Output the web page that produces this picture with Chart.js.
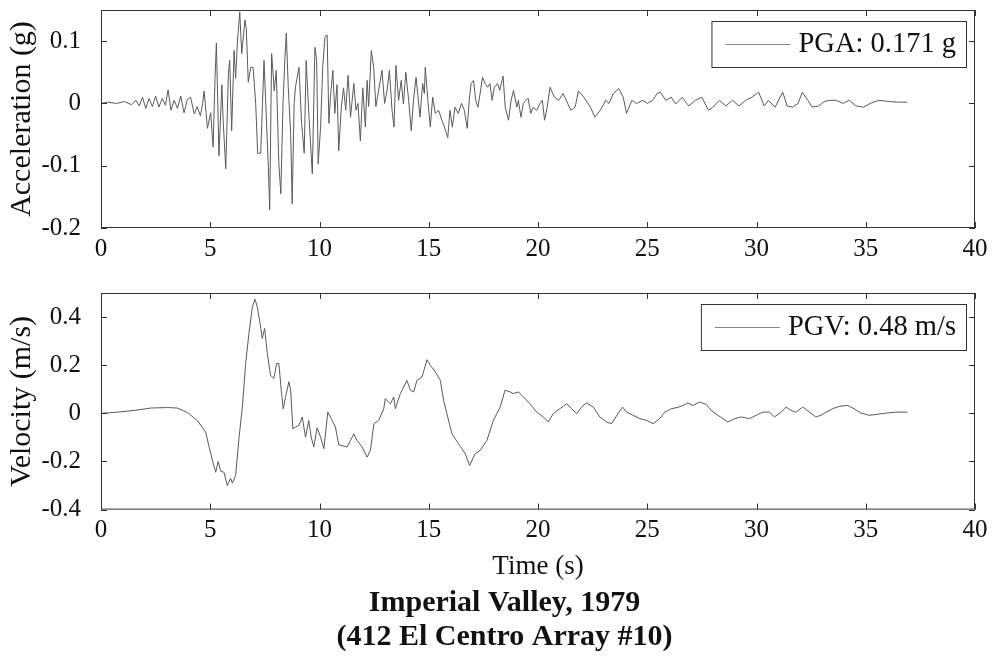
<!DOCTYPE html>
<html><head><meta charset="utf-8">
<script src="https://cdn.jsdelivr.net/npm/chart.js@4"></script>
<style>
html,body{margin:0;padding:0;background:#fff;}
#wrap{position:relative;width:995px;height:656px;overflow:hidden;background:#fff;}
#c1{position:absolute;left:0;top:0;width:995px;height:270px;}
#c2{position:absolute;left:0;top:283px;width:995px;height:373px;}
</style></head><body>
<div id="wrap"><canvas id="c1" width="995" height="270"></canvas><canvas id="c2" width="995" height="373"></canvas></div>
<script>
// ---------- data ----------
const timeTicks = [0, 5, 10, 15, 20, 25, 30, 35, 40];
const accelTicks = [-0.2, -0.1, 0, 0.1];
const velTicks = [-0.4, -0.2, 0, 0.2, 0.4];

const accelTime = [0.0,0.3,0.7,1.07,1.4,1.6,1.75,1.9,2.05,2.2,2.35,2.5,2.65,2.8,2.95,3.07,3.2,3.35,3.5,3.65,3.8,3.95,4.1,4.27,4.4,4.55,4.65,4.72,4.87,5.02,5.13,5.22,5.28,5.40,5.53,5.59,5.71,5.83,5.89,5.98,6.09,6.16,6.24,6.35,6.44,6.59,6.65,6.74,6.85,6.96,7.08,7.17,7.31,7.46,7.53,7.66,7.72,7.81,7.93,8.02,8.14,8.23,8.33,8.42,8.48,8.57,8.68,8.75,8.84,8.90,9.06,9.18,9.30,9.39,9.51,9.67,9.79,9.87,9.94,10.05,10.15,10.25,10.35,10.43,10.5,10.61,10.7,10.8,10.88,11.0,11.1,11.2,11.31,11.42,11.57,11.67,11.76,11.87,11.98,12.1,12.18,12.25,12.37,12.48,12.58,12.7,12.86,12.98,13.09,13.2,13.32,13.41,13.5,13.62,13.74,13.84,13.95,14.08,14.2,14.3,14.42,14.6,14.72,14.8,14.84,14.96,15.07,15.18,15.3,15.45,15.6,15.72,15.87,15.97,16.08,16.2,16.35,16.5,16.63,16.76,16.85,16.94,17.05,17.15,17.25,17.35,17.46,17.58,17.7,17.8,17.9,18.0,18.15,18.25,18.4,18.5,18.65,18.77,18.88,19.03,19.1,19.22,19.33,19.43,19.55,19.67,19.78,19.94,20.1,20.2,20.3,20.42,20.55,20.75,20.95,21.15,21.5,21.7,21.85,22.1,22.4,22.6,22.85,23.1,23.25,23.45,23.7,23.9,24.05,24.3,24.5,24.8,25.0,25.25,25.45,25.6,25.85,26.1,26.3,26.6,26.9,27.2,27.5,27.8,28.0,28.3,28.6,28.9,29.2,29.5,29.8,30.1,30.35,30.55,30.85,31.2,31.4,31.65,31.9,32.1,32.35,32.55,32.85,33.1,33.35,33.65,33.95,34.25,34.55,34.9,35.2,35.6,36.1,36.5,36.9];
const accelValue = [0,0.002,0,0.003,-0.002,0.005,-0.004,0.01,-0.008,0.008,-0.005,0.012,-0.006,0.008,-0.003,0.022,-0.011,0.005,-0.008,0.012,-0.015,0.006,0.01,-0.017,-0.005,-0.02,0.0,0.02,-0.04,-0.015,-0.07,0.042,0.097,-0.084,0.03,-0.027,-0.105,0.048,0.069,-0.044,0.085,0.04,0.097,0.147,0.08,0.134,0.12,0.034,0.058,0.058,0.0,-0.08,-0.08,0.069,0.01,-0.103,-0.171,0.08,0.02,0.053,-0.097,-0.145,0.0,0.074,0.113,0.026,-0.048,-0.161,0.0,0.026,0.058,-0.032,-0.08,0.069,-0.016,-0.113,0.09,0.069,-0.097,-0.038,0.06,0.107,0.11,-0.032,0.01,0.053,-0.016,0.03,-0.076,-0.005,0.025,-0.011,0.045,-0.022,0.032,-0.011,0.0,-0.06,0.025,-0.038,0.037,-0.005,0.085,0.058,-0.005,0.02,0.053,0.0,0.02,0.053,-0.011,-0.038,0.061,0.005,0.037,-0.001,0.05,0.005,-0.044,0.005,0.042,-0.022,0.032,0.016,0.058,0.005,-0.038,0.01,-0.016,-0.011,-0.027,-0.038,-0.055,-0.011,-0.038,-0.006,-0.016,0.0,-0.011,-0.04,0.005,0.032,0.037,0.005,-0.006,0.016,0.042,0.032,0.026,0.032,0.005,0.026,0.032,0.021,0.044,-0.006,-0.027,0.005,0.021,-0.006,0.005,-0.022,0.0,0.005,0.008,-0.016,-0.006,-0.011,0.0,0.005,-0.027,-0.006,0.026,0.01,0.005,0.016,-0.011,-0.006,0.02,0.01,-0.006,-0.022,-0.011,0.005,0.0,0.016,0.024,0.01,-0.016,0.005,0.0,0.005,0.0,0.005,0.016,0.018,0.005,0.01,-0.001,0.01,-0.004,0.005,0.01,-0.011,-0.006,0.005,-0.004,0.005,-0.004,0.005,0.01,0.018,-0.004,0.005,-0.006,0.018,-0.004,-0.006,0.0,0.018,0.005,-0.006,-0.004,0.003,0.005,0.005,0.0,0.005,-0.004,-0.006,0.0,0.005,0.003,0.002,0.002];

const velTime = [0.0,0.76,1.52,2.28,3.04,3.5,3.96,4.41,4.79,4.95,5.1,5.25,5.36,5.48,5.63,5.78,5.93,6.01,6.16,6.32,6.47,6.62,6.77,6.93,7.05,7.15,7.28,7.38,7.49,7.61,7.76,7.91,8.04,8.14,8.25,8.34,8.45,8.6,8.68,8.78,8.9,9.06,9.21,9.36,9.51,9.62,9.74,9.89,10.05,10.2,10.38,10.58,10.73,10.88,11.03,11.26,11.42,11.57,11.72,11.95,12.18,12.33,12.49,12.71,12.94,13.01,13.24,13.4,13.47,13.7,14.0,14.16,14.31,14.46,14.69,14.92,15.07,15.3,15.53,15.68,15.83,16.06,16.36,16.67,16.87,17.12,17.35,17.66,17.96,18.27,18.49,18.72,18.87,19.1,19.33,19.63,19.94,20.24,20.47,20.7,21.0,21.31,21.54,21.77,21.99,22.22,22.53,22.83,23.14,23.36,23.67,23.87,24.05,24.35,24.66,24.96,25.27,25.57,25.8,26.1,26.4,26.64,26.86,27.09,27.4,27.7,27.93,28.23,28.69,29.0,29.3,29.68,29.99,30.29,30.59,30.82,31.13,31.35,31.58,31.81,32.12,32.42,32.72,32.95,33.18,33.48,33.79,34.17,34.47,34.78,35.16,35.54,35.92,36.38,36.91];
const velValue = [0,0.005,0.012,0.022,0.024,0.022,0.003,-0.03,-0.078,-0.14,-0.196,-0.245,-0.2,-0.24,-0.245,-0.3,-0.27,-0.29,-0.258,-0.099,0.026,0.207,0.332,0.443,0.474,0.443,0.374,0.311,0.353,0.249,0.158,0.145,0.207,0.207,0.096,0.019,0.07,0.131,0.096,-0.064,-0.057,-0.05,-0.015,-0.099,-0.03,-0.099,-0.14,-0.06,-0.099,-0.147,0.005,-0.03,-0.057,-0.13,-0.134,-0.14,-0.113,-0.085,-0.113,-0.14,-0.182,-0.154,-0.043,-0.029,0.019,0.061,0.04,0.068,0.019,0.082,0.137,0.096,0.089,0.137,0.151,0.223,0.2,0.172,0.137,0.054,-0.001,-0.085,-0.126,-0.168,-0.217,-0.168,-0.154,-0.113,-0.029,0.026,0.096,0.089,0.082,0.089,0.068,0.04,0.005,-0.015,-0.036,-0.001,0.019,0.04,0.019,-0.001,0.026,0.043,0.026,-0.015,-0.036,-0.043,0.0,0.026,0.005,-0.008,-0.022,-0.029,-0.043,-0.022,0.005,0.019,0.025,0.033,0.043,0.033,0.047,0.037,0.012,-0.008,-0.036,-0.022,-0.015,-0.022,-0.008,0.005,0.005,-0.015,0.005,0.026,0.012,0.005,0.026,0.005,-0.015,-0.008,0.005,0.019,0.029,0.033,0.019,0.001,-0.008,-0.004,0.001,0.005,0.005];

const accelLabel = 'PGA: 0.171 g';
const velLabel = 'PGV: 0.48 m/s';
const accelAxisTitle = 'Acceleration (g)';
const velAxisTitle = 'Velocity (m/s)';
const timeAxisTitle = 'Time (s)';
const chartTitle = ['Imperial Valley, 1979', '(412 El Centro Array #10)'];

// ---------- styling ----------
const SERIF = '"Liberation Serif", "Times New Roman", serif';
Chart.defaults.font.family = SERIF;
Chart.defaults.color = '#111';

function fmt(v) { const r = Math.round(v * 100) / 100; return String(r); }

const frame = {
  id: 'matlabFrame',
  afterLayout(chart) {
    // nudge the bottom title block slightly right, as in the reference figure
    if (chart.titleBlock && chart.options.plugins.title.display) {
      chart.titleBlock.left += 34;
    }
  },
  afterDatasetsDraw(chart) {
    const {ctx, chartArea: a, scales: {x, y}} = chart;
    ctx.save();
    ctx.strokeStyle = '#333';
    ctx.lineWidth = 1;
    ctx.strokeRect(a.left + 0.5, a.top + 0.5, a.right - a.left - 1, a.bottom - a.top - 1);
    const L = 6;
    ctx.beginPath();
    x.ticks.forEach(t => {
      const px = Math.round(x.getPixelForValue(t.value)) + 0.5;
      ctx.moveTo(px, a.bottom); ctx.lineTo(px, a.bottom - L);
      ctx.moveTo(px, a.top); ctx.lineTo(px, a.top + L);
    });
    y.ticks.forEach(t => {
      const py = Math.round(y.getPixelForValue(t.value)) + 0.5;
      ctx.moveTo(a.left, py); ctx.lineTo(a.left + L, py);
      ctx.moveTo(a.right, py); ctx.lineTo(a.right - L, py);
    });
    ctx.stroke();
    // legend box (top-right, inside the axes)
    const ds = chart.data.datasets[0];
    ctx.font = '28.5px ' + SERIF;
    const tw = ctx.measureText(ds.label).width;
    const boxR = a.right - 9, boxT = a.top + 11, boxH = 46;
    const textR = boxR - 10, textL = textR - tw;
    const lineR = textL - 8, lineL = lineR - 65;
    const boxL = lineL - 14;
    ctx.fillStyle = '#fff';
    ctx.fillRect(boxL, boxT, boxR - boxL, boxH);
    ctx.strokeStyle = '#333';
    ctx.strokeRect(boxL + 0.5, boxT + 0.5, boxR - boxL, boxH);
    ctx.strokeStyle = '#888';
    ctx.beginPath();
    ctx.moveTo(lineL, boxT + boxH / 2 + 0.5); ctx.lineTo(lineR, boxT + boxH / 2 + 0.5);
    ctx.stroke();
    ctx.fillStyle = '#111';
    ctx.textAlign = 'left';
    ctx.textBaseline = 'middle';
    ctx.fillText(ds.label, textL, boxT + boxH / 2 + 1);
    ctx.restore();
  }
};

function makeChart(canvas, opts) {
  const pts = opts.t.map((t, i) => ({x: t, y: opts.v[i]}));
  return new Chart(canvas, {
    type: 'line',
    data: { datasets: [{ label: opts.label, data: pts, borderColor: opts.color, borderWidth: 1, pointRadius: 0, tension: 0, fill: false }] },
    options: {
      responsive: false, animation: false, devicePixelRatio: 1,
      parsing: false, normalized: true,
      layout: { padding: { top: 10, right: 20, left: 0, bottom: 0 } },
      plugins: {
        legend: { display: false }, tooltip: { enabled: false },
        title: opts.title ? {
          display: true, position: 'bottom', text: opts.title, color: '#111',
          font: { size: 30, weight: 'bold', lineHeight: 1.12, family: SERIF },
          padding: { top: 6, bottom: 2 }
        } : { display: false }
      },
      scales: {
        x: {
          type: 'linear', min: 0, max: 40,
          grid: { display: false }, border: { display: false },
          afterBuildTicks: s => { s.ticks = timeTicks.map(v => ({value: v})); },
          ticks: { font: { size: 25, lineHeight: 1.2 }, padding: -2, maxRotation: 0, autoSkip: false, color: '#111', callback: v => fmt(v) },
          title: opts.xTitle ? { display: true, text: opts.xTitle, font: { size: 27, lineHeight: 1 }, padding: { top: 0, bottom: 0 }, color: '#111' } : { display: false },
          afterFit: s => { s.height = opts.xh; s.paddingLeft = 0; s.paddingRight = 0; }
        },
        y: {
          type: 'linear', min: opts.ymin, max: opts.ymax,
          grid: { display: false }, border: { display: false },
          afterBuildTicks: s => { s.ticks = opts.yt.map(v => ({value: v})); },
          ticks: { font: { size: 25, lineHeight: 0.6 }, padding: 12, autoSkip: false, color: '#111', callback: v => fmt(v) },
          title: { display: true, text: opts.yTitle, font: { size: 30, lineHeight: 1 }, padding: { top: 7, bottom: 0 }, color: '#111' },
          afterFit: s => { s.width = 101; s.paddingTop = 0; s.paddingBottom = 0; }
        }
      }
    },
    plugins: [frame]
  });
}

makeChart(document.getElementById('c1'), {
  t: accelTime, v: accelValue, label: accelLabel, color: '#5a5a5a',
  ymin: -0.2, ymax: 0.15, yt: accelTicks, yTitle: accelAxisTitle, xh: 42
});
makeChart(document.getElementById('c2'), {
  t: velTime, v: velValue, label: velLabel, color: '#5a5a5a',
  ymin: -0.4, ymax: 0.5, yt: velTicks, yTitle: velAxisTitle, xTitle: timeAxisTitle,
  title: chartTitle, xh: 71.2
});
</script>
</body></html>
